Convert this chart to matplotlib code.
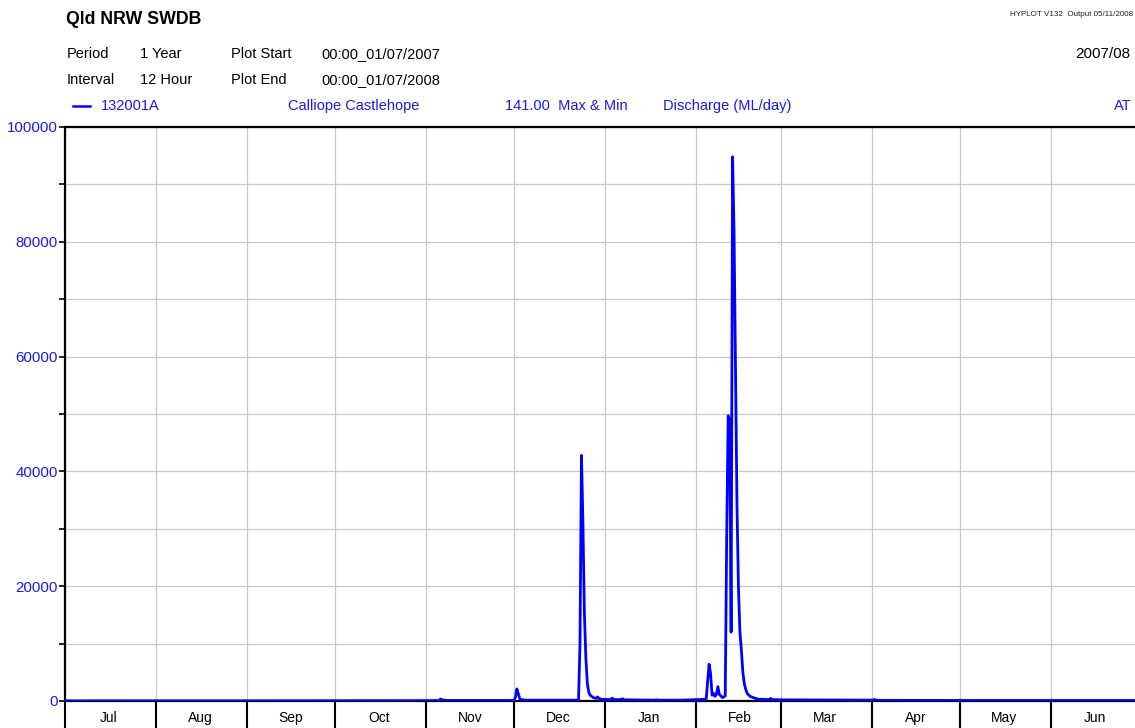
import numpy as np
import matplotlib
matplotlib.use("Agg")
import matplotlib.pyplot as plt
import matplotlib.dates as mdates
from matplotlib.lines import Line2D

plt.rcParams['font.family'] = ['Liberation Sans', 'DejaVu Sans']

# ---------------- data ----------------
start_date = np.datetime64("2007-07-01T00:00")
end_date = np.datetime64("2008-07-01T00:00")

# sample times (days since 00:00 01/07/2007, 12-hour steps) and discharge (ML/day)
sample_days = [0, 60, 120, 127.5, 128, 128.5, 130,
               153, 153.5, 154, 154.5, 155, 155.5, 157,
               175, 175.5, 176, 176.5, 177, 177.5, 178, 178.5, 179,
               180, 181, 181.5, 182, 183,
               186, 186.5, 187, 189.5, 190, 190.5,
               195, 201, 201.5, 202, 210,
               218.5, 219, 219.5, 220, 220.5, 221, 221.5, 222, 222.5, 223, 223.5, 224, 224.5, 225,
               225.5, 226, 226.5, 227, 227.5, 228, 228.5, 229, 229.5, 230, 230.5, 231,
               231.5, 232, 232.5, 233.5, 235, 236, 236.5, 237, 240, 240.5, 241,
               245, 275, 276, 276.5, 300, 366]
discharge = [30, 40, 60, 80, 350, 200, 100,
             100, 700, 2100, 1200, 400, 250, 150,
             150, 10000, 42800, 31000, 15300, 7500, 3100, 1500, 1000,
             600, 450, 700, 400, 300,
             250, 500, 250, 250, 400, 220,
             180, 150, 220, 150, 150,
             300, 3500, 6400, 4800, 1000, 1300, 800, 1200, 2500, 1100, 900, 600, 700, 900,
             29000, 49700, 49000, 12000, 94800, 81700, 57800, 34000, 19800, 12000, 8900, 5000,
             3000, 2000, 1300, 800, 500, 350, 250, 300, 250, 450, 250,
             200, 150, 250, 120, 100, 90]

month_labels = ["Jul", "Aug", "Sep", "Oct", "Nov", "Dec",
                "Jan", "Feb", "Mar", "Apr", "May", "Jun"]
y_major_ticks = [0, 20000, 40000, 60000, 80000, 100000]
y_minor_ticks = [10000, 30000, 50000, 70000, 90000]

# ---------------- figure ----------------
W, H = 1135, 728
fig = plt.figure(figsize=(W / 100, H / 100), dpi=100)
fig.patch.set_facecolor("white")

ax_left, ax_right, ax_top, ax_bottom = 65, 1139, 127, 701
ax = fig.add_axes([ax_left / W, (H - ax_bottom) / H,
                   (ax_right - ax_left) / W, (ax_bottom - ax_top) / H])

times = start_date + (np.array(sample_days) * 24 * 60).astype("timedelta64[m]")
times = times.astype("datetime64[s]").astype(object)
blue_line = "#0000ff"
blue_text = "#1a1ae6"
ax.plot(times, discharge, color=blue_line, lw=2.0, zorder=3)

ax.set_xlim(start_date.astype(object), end_date.astype(object))
ax.set_ylim(0, 100000)

# x axis: month boundaries as major ticks (long, downward), labels mid-month
ax.xaxis.set_major_locator(mdates.MonthLocator())
ax.xaxis.set_major_formatter(plt.NullFormatter())
ax.xaxis.set_minor_locator(mdates.MonthLocator(bymonthday=16))
ax.xaxis.set_minor_formatter(plt.FuncFormatter(
    lambda v, p: month_labels[(mdates.num2date(v).month - 7) % 12]))
ax.tick_params(axis="x", which="major", direction="out", length=22,
               width=1.5, color="black")
ax.tick_params(axis="x", which="minor", length=0, pad=7.5, labelsize=10,
               labelcolor="black")

# y axis
ax.set_yticks(y_major_ticks)
ax.set_yticks(y_minor_ticks, minor=True)
ax.set_yticklabels([str(v) for v in y_major_ticks])
ax.tick_params(axis="y", which="both", direction="out", length=4.5, width=1.2,
               color="black", pad=0.5, labelsize=10.8, labelcolor=blue_text)

ax.grid(True, which="major", axis="x", color="#c8c8c8", lw=0.9)
ax.grid(True, which="both", axis="y", color="#c8c8c8", lw=0.9)
ax.set_axisbelow(True)

for side in ["left", "top", "bottom"]:
    ax.spines[side].set_linewidth(1.6)
    ax.spines[side].set_color("black")
ax.spines["right"].set_visible(False)

# ---------------- header texts ----------------
def ftxt(x, y, s, **kw):
    fig.text(x / W, 1 - y / H, s, va="center", ha="left", **kw)

FS = 10.5
ftxt(66, 20, "Qld NRW SWDB", fontsize=12.8, fontweight="bold", color="black")
ftxt(67, 54, "Period", fontsize=FS)
ftxt(140, 54, "1 Year", fontsize=FS)
ftxt(231, 54, "Plot Start", fontsize=FS)
ftxt(321, 54, "00:00_01/07/2007", fontsize=FS)
ftxt(67, 80, "Interval", fontsize=FS)
ftxt(140, 80, "12 Hour", fontsize=FS)
ftxt(231, 80, "Plot End", fontsize=FS)
ftxt(321, 80, "00:00_01/07/2008", fontsize=FS)

fig.add_artist(Line2D([73 / W, 90 / W], [1 - 106 / H, 1 - 106 / H],
                      color=blue_line, lw=1.8))
ftxt(101, 106, "132001A", fontsize=FS, color=blue_text)
ftxt(288, 106, "Calliope Castlehope", fontsize=FS, color=blue_text)
ftxt(505, 106, "141.00  Max & Min", fontsize=FS, color=blue_text)
ftxt(663, 106, "Discharge (ML/day)", fontsize=FS, color=blue_text)
ftxt(1114, 106, "AT", fontsize=FS, color=blue_text)

ftxt(1010, 14, "HYPLOT V132  Output 05/11/2008", fontsize=5.8, color="#222222")
ftxt(1075, 54, "2007/08", fontsize=11, color="black")

fig.savefig("out.png", dpi=100, facecolor="white")
